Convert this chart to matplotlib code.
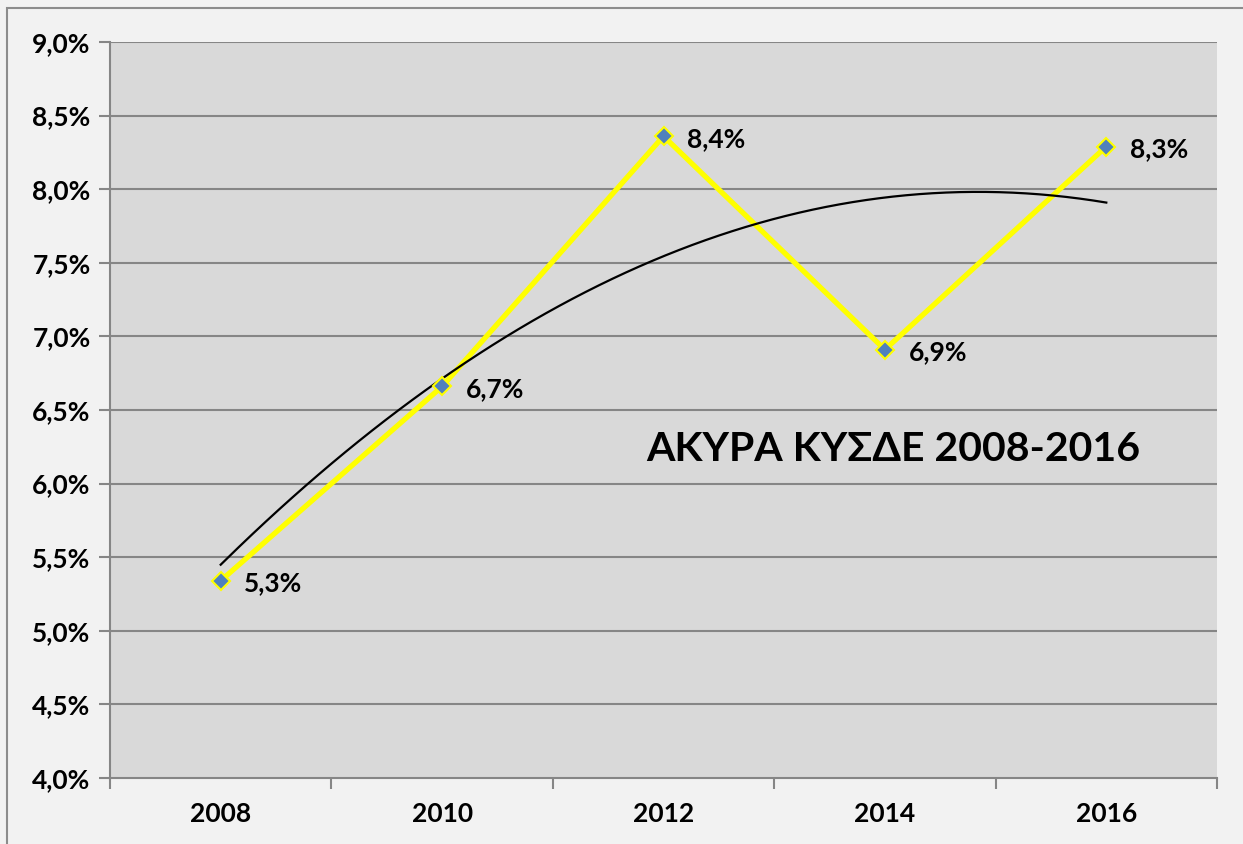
import matplotlib.pyplot as plt
import numpy as np
from matplotlib.patches import Rectangle
from matplotlib.ticker import FuncFormatter, FixedLocator

plt.rcParams["font.family"] = ["Lato", "DejaVu Sans"]
plt.rcParams["font.weight"] = "bold"

years = ["2008", "2010", "2012", "2014", "2016"]
values = [5.34, 6.66, 8.36, 6.91, 8.29]
labels = ["5,3%", "6,7%", "8,4%", "6,9%", "8,3%"]
title = "ΑΚΥΡΑ ΚΥΣΔΕ 2008-2016"

x = np.arange(1, len(years) + 1)

fig = plt.figure(figsize=(12.43, 8.44), dpi=100)
fig.patch.set_facecolor("#f2f2f2")
# outer chart border
fig.patches.append(Rectangle((7 / 1243, -0.1), 1.2, 1.1 - 8 / 844,
                             transform=fig.transFigure, fill=False,
                             edgecolor="#8c8c8c", linewidth=1.5))

ax = fig.add_axes([110 / 1243, 66 / 844, 1107 / 1243, 736 / 844])
ax.set_facecolor("#d9d9d9")

# grid
for yv in np.arange(4.5, 9.01, 0.5):
    ax.axhline(yv, color="#868686", linewidth=1.5, zorder=1)

# data line
ax.plot(x, values, color="#ffff00", linewidth=3.8, zorder=3)
ax.plot(x, values, linestyle="none", marker="D", markersize=9,
        markerfacecolor="#4f81bd", markeredgecolor="#ffff00",
        markeredgewidth=1.5, zorder=5)

# polynomial (order 2) trend line
coef = np.polyfit(x, values, 2)
xt = np.linspace(1, 5, 200)
ax.plot(xt, np.polyval(coef, xt), color="black", linewidth=1.6, zorder=4)

for xi, yi, lab in zip(x, values, labels):
    ax.annotate(lab, (xi, yi), xytext=(17, -2), textcoords="offset points",
                ha="left", va="center", fontsize=19, fontweight="bold")

ax.text(4.04, 6.23, title, ha="center", va="center", fontsize=29.5,
        fontweight="bold")

ax.set_xlim(0.5, 5.5)
ax.set_ylim(4.0, 9.0)
ax.set_yticks(np.arange(4.0, 9.01, 0.5))
ax.yaxis.set_major_formatter(FuncFormatter(lambda v, p: f"{v:.1f}%".replace(".", ",")))
ax.set_xticks(x)
ax.set_xticklabels(years)
ax.xaxis.set_minor_locator(FixedLocator(np.arange(0.5, 5.6, 1.0)))
ax.tick_params(axis="x", which="major", length=0, pad=17, labelsize=19)
ax.tick_params(axis="x", which="minor", length=8, width=1.5, color="#868686")
ax.tick_params(axis="y", length=8, width=1.5, color="#868686", pad=6,
               labelsize=19)
for lab in ax.get_xticklabels() + ax.get_yticklabels():
    lab.set_fontweight("bold")

for s in ["top", "right"]:
    ax.spines[s].set_visible(False)
for s in ["left", "bottom"]:
    ax.spines[s].set_color("#868686")
    ax.spines[s].set_linewidth(1.5)

fig.savefig("out.png", dpi=100, facecolor=fig.get_facecolor())
